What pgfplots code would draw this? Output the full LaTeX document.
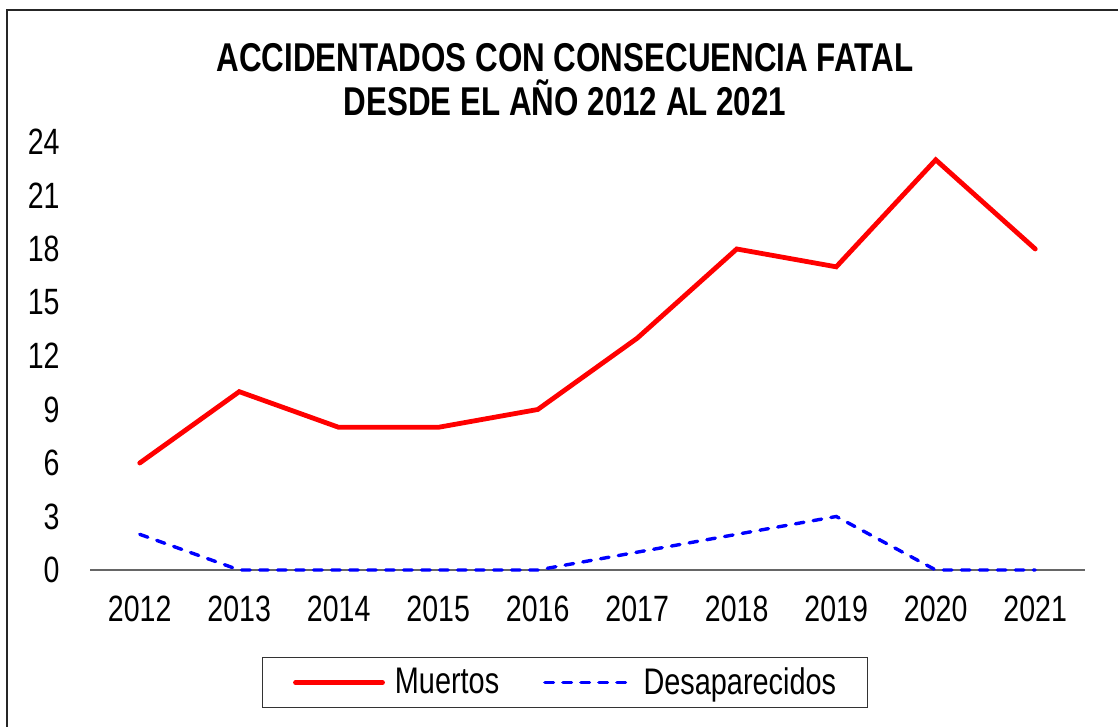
\documentclass[border=0pt]{standalone}
\usepackage{fontspec}
\setmainfont{Liberation Sans}[FakeStretch=0.78]
\usepackage{pgfplots}
\pgfplotsset{compat=1.18}
\begin{document}
\begin{tikzpicture}[x=1pt,y=1pt]
\path[use as bounding box] (0,0) rectangle (559,363.5);
\draw[black!85,line width=0.8pt] (3.5,-2) -- (3.5,358.5) -- (562,358.5);
\node[anchor=base,font=\fontsize{20.1}{22}\selectfont\bfseries] at (282.5,327.5) {ACCIDENTADOS CON CONSECUENCIA FATAL};
\node[anchor=base,font=\fontsize{20.1}{22}\selectfont\bfseries] at (282.5,305.5) {DESDE EL AÑO 2012 AL 2021};
\begin{axis}[
  at={(45pt,78.5pt)}, anchor=south west,
  scale only axis, width=497.5pt, height=214pt,
  xmin=2011.5, xmax=2021.5, ymin=0, ymax=24,
  axis x line*=bottom, axis y line*=left,
  x axis line style={black!60, line width=0.6pt},
  y axis line style={draw=none},
  xtick={2012,...,2021}, ytick={0,3,...,24},
  xticklabel style={/pgf/number format/1000 sep={}},
  major tick length=0pt,
  tick style={draw=none},
  /pgf/number format/assume math mode=true,
  ticklabel style={font=\fontsize{18.3}{20}\selectfont, inner sep=0pt},
  yticklabel style={anchor=east, xshift=-15pt},
  xticklabel style={anchor=north, yshift=-13pt},
  clip=false,
  legend columns=2,
  legend image code/.code={\draw[#1] (0pt,0pt) -- (43.5pt,0pt);},
  legend style={at={(0.477,-0.263)}, anchor=center,
    draw=black!80, line width=0.6pt,
    inner xsep=15.5pt, inner ysep=5pt,
    font=\fontsize{18.5}{20}\selectfont,
    nodes={inner sep=0pt},
    /tikz/every odd column/.append style={column sep=5pt},
    /tikz/every even column/.append style={column sep=22pt}},
]
\addplot[red, line width=2.4pt, line cap=round] coordinates {
 (2012,6) (2013,10) (2014,8) (2015,8) (2016,9) (2017,13) (2018,18) (2019,17) (2020,23) (2021,18)};
\addlegendentry{Muertos}
\addplot[blue, line width=1.7pt, line cap=round, dash pattern=on 4.3pt off 4.7pt] coordinates {
 (2012,2) (2013,0) (2014,0) (2015,0) (2016,0) (2017,1) (2018,2) (2019,3) (2020,0) (2021,0)};
\addlegendentry{Desaparecidos}
\end{axis}
\end{tikzpicture}
\end{document}
